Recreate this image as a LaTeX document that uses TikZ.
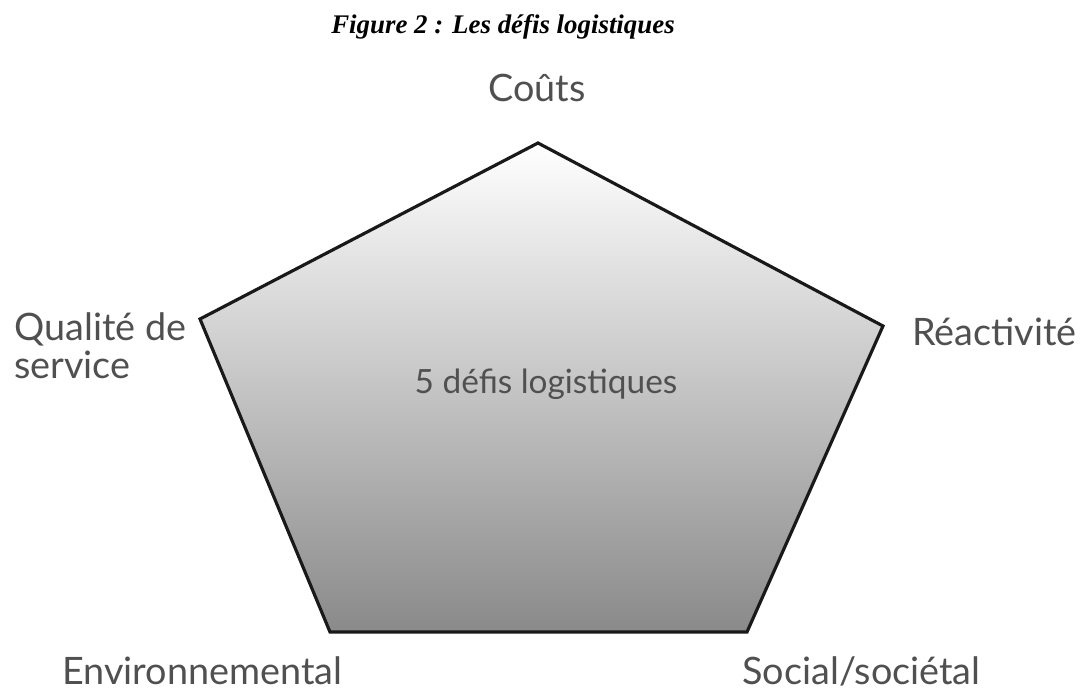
\documentclass[tikz,border=0pt]{standalone}
\usepackage{fontspec}
\setmainfont{Liberation Serif}
\newfontfamily\labelfont{Lato}
\definecolor{labelgray}{HTML}{505050}
\tikzset{
  axe/.style={font=\labelfont\fontsize{21.5}{21.5}\selectfont, text=labelgray, inner sep=0pt},
}
\begin{document}
\begin{tikzpicture}[x=0.02cm, y=-0.02cm]
  \useasboundingbox (0,0) rectangle (1080,691);
  \node[font=\bfseries\itshape\fontsize{15.3}{18}\selectfont, anchor=base] (titre) at (503,33) {Figure 2 : Les défis logistiques};
  % sommets du pentagone
  \coordinate (cout) at (538,143);
  \coordinate (reac) at (883,326);
  \coordinate (soc) at (747,632);
  \coordinate (env) at (330,632);
  \coordinate (qual) at (200,319);
  \shadedraw[top color=white, bottom color=black!46, draw=black!90, line width=1.8pt, line join=miter]
    (cout) -- (reac) -- (soc) -- (env) -- (qual) -- cycle;
  \node[axe, font=\labelfont\fontsize{19}{22}\selectfont, anchor=base] (centre) at (546,393) {5 défis logistiques};
  \node[axe, anchor=base] (couts) at (537,101) {Coûts};
  \node[axe, anchor=base west] (reactivite) at (912,345) {Réactivité};
  \node[axe, align=left, anchor=base west] (qualite) at (14,378) {Qualité de\\service};
  \node[axe, anchor=base west] (environ) at (62,684) {Environnemental};
  \node[axe, anchor=base west] (social) at (742,684) {Social/sociétal};
\end{tikzpicture}
\end{document}
